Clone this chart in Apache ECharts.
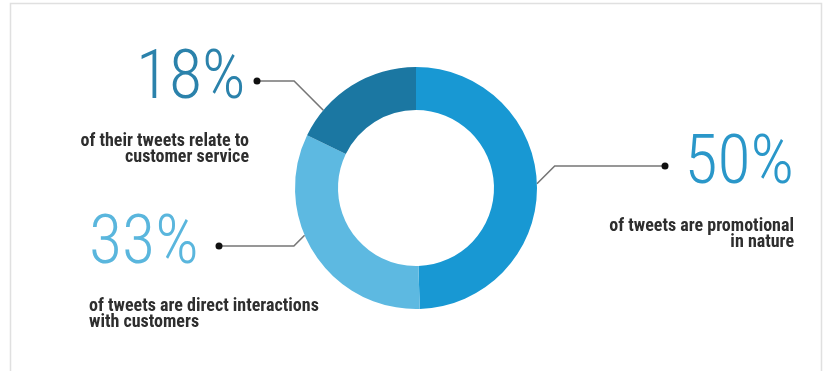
<!DOCTYPE html>
<html>
<head>
<meta charset="utf-8">
<script src="https://cdn.jsdelivr.net/npm/echarts@6/dist/echarts.min.js"></script>
<style>
  html, body { margin: 0; padding: 0; background: #fff; }
  #chart { width: 824px; height: 371px; }
</style>
</head>
<body>
<div id="chart"></div>
<script>
// data
const categories = ['promotional', 'direct interactions', 'customer service'];
const shares = [50, 33, 18];
const descLines = [
  ['of tweets are promotional', 'in nature'],
  ['of tweets are direct interactions', 'with customers'],
  ['of their tweets relate to', 'customer service']
];

// styling / layout
const sliceColors = ['#1898d3', '#5db9e1', '#1b77a2'];
const pctColors = ['#2a97c9', '#5ab6dd', '#2b82ab'];
const CX = 416, CY = 188, R_IN = 78, R_OUT = 121;
const PCT_FONT = '"Roboto Condensed", "Liberation Sans Narrow", sans-serif';
const DESC_FONT = '"Liberation Sans Narrow", "Roboto Condensed", sans-serif';
const PCT_LH = 104;

// where each leader line leaves the ring (math degrees), the dot, and the text block edge
const callouts = [
  { angle: 2, dot: [665, 166], labelX: 794, align: 'right', dotFirst: true, gap: 11.5, pctW: 114, tail: 0 },
  { angle: 203, dot: [219, 246], labelX: 89, align: 'left', dotFirst: false, gap: 8.5, pctW: 118, tail: 0 },
  { angle: 140, dot: [257, 81], labelX: 260.5, align: 'right', dotFirst: false, gap: 8, pctW: 0, tail: 11.5 }
];

const data = shares.map(function (v, i) {
  const c = callouts[i];
  const pct = '{p|' + v + '%}';
  const first = c.dotFirst ? '{dot|}{g|}' + pct : pct + '{g|}{dot|}';
  const tail = c.tail ? '{s|}' : '';
  const text = [first].concat(descLines[i].map(function (l) { return '{d|' + l + '}' + tail; })).join('\n');
  const pStyle = {
    fontFamily: PCT_FONT, fontWeight: 300, fontSize: 68, lineHeight: PCT_LH,
    color: pctColors[i], align: c.align
  };
  if (c.pctW) pStyle.width = c.pctW;
  return {
    name: categories[i],
    value: v,
    itemStyle: { color: sliceColors[i] },
    label: {
      formatter: text,
      align: c.align,
      rich: {
        p: pStyle,
        g: { width: c.gap, height: 4, align: c.align },
        s: { width: c.tail || 1, height: 4, align: c.align },
        dot: { width: 7, height: 7, borderRadius: 3.5, backgroundColor: '#111', align: c.align },
        d: {
          fontFamily: DESC_FONT, fontWeight: 'bold', fontSize: 18, lineHeight: 16.5,
          color: '#2e2e2e', align: c.align
        }
      }
    }
  };
});

const chart = echarts.init(document.getElementById('chart'), null, { renderer: 'canvas' });
chart.setOption({
  animation: false,
  backgroundColor: '#ffffff',
  graphic: [{
    type: 'rect',
    shape: { x: 10.5, y: 3.5, width: 811, height: 380 },
    style: { fill: 'none', stroke: '#e0e0e0', lineWidth: 1.5 },
    silent: true
  }],
  series: [{
    type: 'pie',
    center: [CX, CY],
    radius: [R_IN, R_OUT],
    startAngle: 90,
    clockwise: true,
    avoidLabelOverlap: false,
    silent: true,
    label: { show: true, position: 'outside' },
    labelLine: { show: true, lineStyle: { color: '#767676', width: 1.6 } },
    labelLayout: function (params) {
      const c = callouts[params.dataIndex];
      const rad = c.angle * Math.PI / 180;
      const ax = CX + R_OUT * Math.cos(rad);
      const ay = CY - R_OUT * Math.sin(rad);
      const dy = Math.abs(c.dot[1] - ay);
      const kx = c.dot[0] < ax ? ax - dy : ax + dy;
      return {
        x: c.labelX,
        y: c.dot[1] - PCT_LH / 2,
        align: c.align,
        verticalAlign: 'top',
        labelLinePoints: [[ax, ay], [kx, c.dot[1]], c.dot]
      };
    },
    data: data
  }]
});
</script>
</body>
</html>
